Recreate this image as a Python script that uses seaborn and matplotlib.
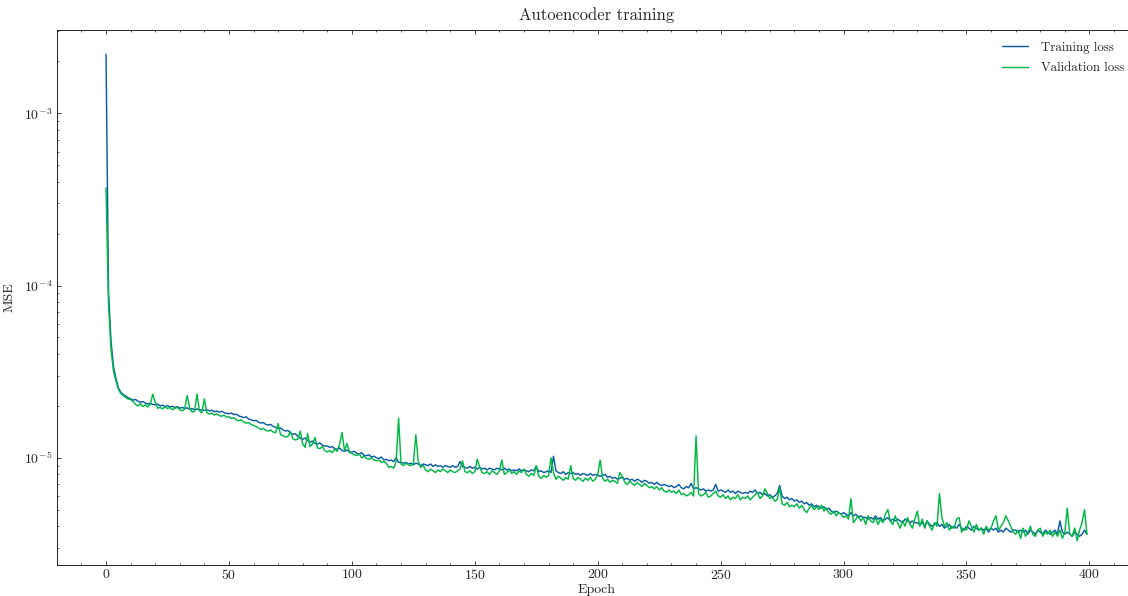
import numpy as np
import pandas as pd
import matplotlib
matplotlib.use("Agg")
import matplotlib.pyplot as plt
import seaborn as sns

# Values in units of 1e-6 (MSE)
SCALE = 1e-6
train_loss = [
    2200, 92, 48, 34, 29, 25.5, 24.0, 23.3, 22.8, 22.3,
    22.0, 21.6, 21.8, 21.3, 21.0, 21.2, 20.8, 20.5, 20.7, 20.4,
    20.3, 20.5, 20.0, 20.2, 19.8, 20.1, 19.7, 19.9, 19.6, 19.8,
    19.4, 19.6, 19.3, 19.5, 19.1, 19.3, 19.0, 19.2, 18.9, 19.0,
    18.8, 19.0, 18.7, 18.9, 18.5, 18.7, 18.4, 18.6, 18.3, 18.1,
    18.0, 18.2, 17.8, 17.9, 17.5, 17.3, 17.1, 17.3, 16.8, 16.6,
    16.4, 16.5, 16.1, 15.9, 16.0, 15.6, 15.5, 15.6, 15.2, 15.0,
    14.8, 14.9, 14.5, 14.3, 14.4, 13.9, 13.7, 13.8, 13.3, 13.0,
    12.8, 13.0, 12.6, 12.3, 12.5, 12.1, 12.0, 12.2, 11.8, 11.7,
    11.7, 11.5, 11.6, 11.3, 11.2, 11.4, 11.0, 10.9, 11.1, 10.8,
    10.8, 10.9, 10.6, 10.5, 10.7, 10.3, 10.3, 10.4, 10.1, 10.2,
    10.0, 9.9, 10.1, 9.7, 9.8, 9.6, 9.7, 9.5, 10.0, 9.4,
    9.4, 9.3, 9.4, 9.2, 9.3, 9.1, 9.3, 9.2, 9.0, 9.2,
    9.1, 9.0, 9.2, 8.9, 9.1, 8.9, 9.0, 8.8, 9.0, 8.9,
    8.8, 9.0, 8.8, 8.9, 9.5, 8.9, 8.8, 8.7, 8.9, 8.7,
    8.8, 8.6, 8.8, 8.6, 8.7, 8.5, 8.7, 8.6, 8.5, 8.7,
    8.6, 8.5, 8.7, 8.5, 8.6, 8.4, 8.5, 8.4, 8.6, 8.4,
    8.5, 8.4, 8.3, 8.5, 8.4, 8.9, 8.3, 8.4, 8.2, 8.3,
    8.4, 8.2, 10.2, 8.4, 8.2, 8.1, 8.3, 8.0, 8.2, 8.1,
    8.2, 8.0, 8.1, 7.9, 8.1, 8.0, 7.9, 8.1, 7.9, 8.0,
    7.9, 7.8, 7.9, 8.0, 7.7, 7.8, 7.6, 7.7, 7.5, 7.6,
    7.7, 7.5, 7.6, 7.4, 7.5, 7.3, 7.5, 7.4, 7.2, 7.4,
    7.3, 7.1, 7.2, 7.0, 7.2, 7.0, 6.9, 7.0, 6.9, 6.8,
    6.9, 6.7, 6.8, 7.0, 6.7, 6.6, 6.8, 6.7, 7.1, 6.6,
    6.7, 6.6, 6.5, 6.6, 6.4, 6.5, 6.4, 6.5, 7.0, 6.4,
    6.5, 6.4, 6.3, 6.5, 6.3, 6.4, 6.2, 6.4, 6.3, 6.2,
    6.3, 6.2, 6.4, 6.3, 6.5, 6.2, 6.3, 6.1, 6.2, 6.0,
    6.1, 5.9, 6.0, 6.2, 6.9, 6.0, 5.8, 5.9, 5.7, 5.8,
    5.6, 5.7, 5.5, 5.6, 5.4, 5.5, 5.3, 5.4, 5.2, 5.3,
    5.2, 5.1, 5.2, 5.0, 5.1, 4.9, 4.8, 4.9, 4.8, 4.7,
    4.8, 4.7, 4.6, 4.8, 4.6, 4.7, 4.5, 4.6, 4.5, 4.5,
    4.4, 4.5, 4.4, 4.6, 4.4, 4.5, 4.3, 4.4, 4.5, 4.3,
    4.4, 4.3, 4.4, 4.3, 4.2, 4.4, 4.3, 4.2, 4.3, 4.2,
    4.2, 4.1, 4.2, 4.0, 4.3, 4.1, 4.0, 4.1, 4.2, 4.0,
    4.1, 3.9, 4.0, 4.1, 3.9, 4.0, 3.9, 4.1, 3.9, 3.8,
    4.0, 3.9, 3.8, 4.0, 3.9, 3.8, 3.9, 3.8, 3.9, 3.7,
    3.9, 3.8, 3.9, 3.7, 3.8, 3.7, 3.9, 3.8, 3.7, 3.8,
    3.8, 3.7, 3.8, 3.7, 3.8, 3.6, 3.8, 3.7, 3.6, 3.8,
    3.7, 3.6, 3.8, 3.7, 3.6, 3.7, 3.8, 3.6, 4.3, 3.7,
    3.6, 3.7, 3.6, 3.5, 3.7, 3.6, 3.5, 3.6, 3.8, 3.6,
]
val_loss = [
    370, 78, 43, 32, 28, 25, 23.6, 23.0, 22.4, 21.9,
    21.8, 21.2, 20.4, 20.0, 20.6, 19.8, 20.3, 19.7, 20.5, 23.4,
    21.0, 19.4, 19.6, 19.2, 19.8, 19.3, 19.6, 19.0, 19.4, 19.6,
    19.0, 18.7, 19.2, 23.0, 19.5, 18.4, 18.6, 23.4, 18.8, 18.2,
    22.0, 18.3, 17.9, 18.2, 17.7, 18.0, 17.6, 17.4, 17.7, 17.2,
    17.3, 16.9, 17.1, 16.6, 16.4, 16.6, 16.1, 15.9, 16.0, 15.6,
    15.4, 15.2, 14.9, 14.6, 14.8, 14.4, 14.3, 14.5, 14.1, 14.0,
    15.8, 13.6, 13.4, 13.2, 13.3, 14.2, 12.9, 12.7, 12.8, 14.3,
    12.0, 11.5, 13.8, 11.6, 12.0, 13.1, 11.4, 11.3, 11.6, 11.0,
    10.8, 11.0, 10.7, 11.2, 10.9, 12.0, 14.0, 11.0, 12.1, 10.8,
    10.6, 10.4, 10.3, 10.5, 10.0, 10.2, 9.9, 9.8, 10.0, 9.7,
    9.6, 9.7, 9.4, 9.5, 9.3, 8.8, 8.9, 8.7, 9.5, 17.0,
    9.2, 9.0, 9.3, 9.1, 9.0, 9.2, 13.6, 9.5, 8.8, 9.0,
    8.5, 8.3, 8.6, 8.4, 8.2, 8.5, 8.3, 8.6, 8.4, 8.2,
    8.5, 8.3, 8.2, 8.4, 8.6, 9.6, 8.3, 8.2, 8.4, 8.1,
    8.3, 9.8, 8.8, 8.2, 8.1, 8.3, 8.0, 8.4, 8.2, 8.0,
    8.4, 9.7, 8.0, 8.2, 8.5, 8.1, 8.3, 8.0, 8.4, 8.2,
    8.6, 8.0, 7.8, 8.1, 7.9, 9.0, 7.8, 7.6, 7.9, 7.7,
    7.9, 10.0, 8.2, 7.5, 7.8, 7.6, 7.4, 7.7, 7.5, 9.0,
    7.6, 7.4, 7.7, 7.5, 7.3, 7.6, 7.4, 7.7, 7.3, 7.5,
    8.0, 9.7, 7.6, 7.3, 7.5, 7.2, 7.4, 7.3, 7.1, 8.2,
    7.8, 7.2, 7.0, 7.3, 7.1, 6.9, 7.2, 7.0, 6.8, 7.1,
    6.9, 6.7, 6.8, 6.6, 6.8, 6.5, 6.7, 6.4, 6.3, 6.5,
    6.3, 6.4, 6.2, 6.5, 6.1, 6.2, 6.0, 6.1, 6.3, 6.0,
    13.4, 6.2, 6.0, 6.1, 6.3, 5.9, 6.0, 6.2, 6.4, 6.0,
    5.9, 6.1, 5.8, 6.0, 5.7, 5.9, 5.8, 6.1, 5.7, 5.9,
    5.8, 6.0, 5.7, 5.9, 6.1, 6.3, 5.8, 6.0, 6.6, 6.2,
    5.8, 5.9, 5.6, 5.7, 6.7, 5.4, 5.3, 5.5, 5.2, 5.3,
    5.2, 5.4, 5.1, 5.3, 5.0, 4.8, 5.1, 5.3, 5.0, 5.2,
    5.0, 5.3, 4.9, 5.1, 4.8, 4.7, 4.9, 4.6, 4.8, 4.7,
    4.5, 4.6, 4.4, 5.8, 4.2, 4.4, 4.6, 4.3, 4.5, 4.1,
    4.6, 4.3, 4.2, 4.5, 4.1, 4.4, 4.2, 4.7, 5.0, 4.3,
    4.1, 4.6, 4.2, 3.9, 4.3, 4.0, 4.5, 4.1, 3.9, 4.4,
    4.9, 4.0, 4.4, 3.9, 4.3, 4.0, 3.8, 4.2, 4.0, 6.2,
    4.5, 4.0, 4.2, 3.8, 4.0, 3.9, 4.4, 4.5, 3.7, 3.9,
    3.8, 4.3, 4.0, 3.7, 4.1, 3.8, 3.9, 3.6, 4.0, 3.8,
    3.9, 4.3, 4.6, 3.8, 4.0, 4.2, 4.6, 4.3, 4.0, 3.7,
    3.6, 3.8, 3.4, 3.9, 3.5, 3.7, 4.0, 3.6, 3.5, 3.8,
    3.9, 3.5, 3.7, 3.6, 3.8, 3.5, 3.7, 3.5, 3.8, 3.4,
    3.7, 5.1, 3.6, 3.5, 3.9, 3.3, 3.8, 4.2, 5.0, 3.6,
]
series_names = ["Training loss", "Validation loss"]
colors = ["#0C5DA5", "#00B945"]

epochs = np.arange(len(train_loss))
df = pd.DataFrame({
    "Epoch": np.concatenate([epochs, epochs]),
    "MSE": np.concatenate([np.array(train_loss), np.array(val_loss)]) * SCALE,
    "series": [series_names[0]] * len(train_loss) + [series_names[1]] * len(val_loss),
})

sns.set_style("ticks")
plt.rcParams.update({
    "font.family": "serif",
    "font.serif": ["cmr10", "DejaVu Serif"],
    "mathtext.fontset": "cm",
    "axes.formatter.use_mathtext": True,
    "axes.unicode_minus": False,
    "xtick.direction": "in",
    "ytick.direction": "in",
    "xtick.top": True,
    "ytick.right": True,
    "xtick.minor.visible": True,
    "ytick.minor.visible": True,
    "xtick.major.size": 3,
    "ytick.major.size": 3,
    "xtick.minor.size": 1.5,
    "ytick.minor.size": 1.5,
    "xtick.major.pad": 2.5,
    "ytick.major.pad": 3.0,
    "axes.linewidth": 0.6,
    "xtick.major.width": 0.6,
    "ytick.major.width": 0.6,
    "xtick.minor.width": 0.5,
    "ytick.minor.width": 0.5,
    "axes.edgecolor": "black",
})

fig = plt.figure(figsize=(11.28, 5.96), dpi=100)
ax = fig.add_axes([57 / 1128, 31 / 596, (1136 - 57) / 1128, (565 - 30) / 596])
sns.lineplot(data=df, x="Epoch", y="MSE", hue="series", palette=colors,
             linewidth=1.05, ax=ax, legend=True)
ax.set_yscale("log")
ax.set_title("Autoencoder training", fontsize=12, pad=7)
ax.set_xlabel("Epoch", fontsize=10, labelpad=1)
ax.set_ylabel("MSE", fontsize=10, labelpad=6)
ax.tick_params(labelsize=10)
leg = ax.legend(frameon=False, loc="upper right", fontsize=9.3,
                labelspacing=0.65, handletextpad=1.0,
                bbox_to_anchor=(1.0, 1.0))
for sp in ax.spines.values():
    sp.set_color("black")

fig.savefig("out.png", dpi=100)
